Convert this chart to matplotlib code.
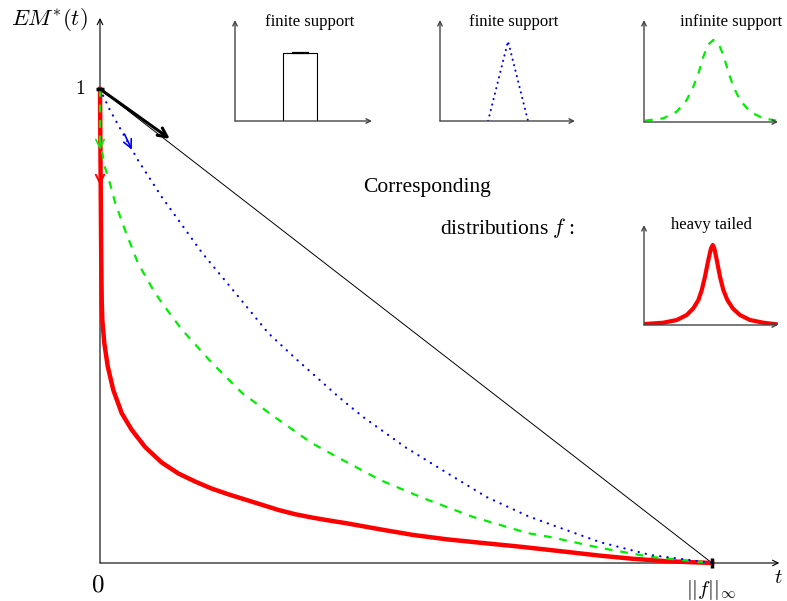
import matplotlib
matplotlib.use("Agg")
import matplotlib.pyplot as plt

plt.rcParams['font.family'] = 'serif'
plt.rcParams['font.serif'] = ['Liberation Serif', 'DejaVu Serif']
plt.rcParams['mathtext.fontset'] = 'cm'

# main curves, t normalised by ||f||_inf, EM* normalised to 1
uniform_t = [0.0, 1.0]
uniform_em = [1.0, 0.0]

triangle_t = [0.0, 0.016, 0.038, 0.062, 0.101, 0.167, 0.221, 0.275, 0.319, 0.392,
              0.430, 0.498, 0.567, 0.632, 0.699, 0.735, 0.817, 0.899, 1.0]
triangle_em = [1.0, 0.956, 0.905, 0.850, 0.772, 0.654, 0.570, 0.485, 0.432, 0.348,
               0.308, 0.245, 0.190, 0.139, 0.099, 0.082, 0.044, 0.017, 0.0]

gauss_t = [0.0, 0.0, 0.008, 0.016, 0.025, 0.041, 0.062, 0.087, 0.101, 0.134, 0.183,
           0.232, 0.281, 0.346, 0.397, 0.458, 0.528, 0.610, 0.699, 0.735, 0.817, 0.899, 1.0]
gauss_em = [1.0, 0.892, 0.835, 0.802, 0.759, 0.702, 0.633, 0.576, 0.549, 0.492, 0.422,
            0.359, 0.312, 0.253, 0.217, 0.175, 0.137, 0.097, 0.063, 0.055, 0.032, 0.013, 0.0]

heavy_t = [0.0, 0.0020, 0.0028, 0.0038, 0.0070, 0.0126, 0.0217, 0.0355, 0.0518, 0.0735,
           0.1008, 0.1279, 0.1552, 0.1825, 0.2096, 0.2369, 0.2642, 0.2913, 0.3186, 0.3459,
           0.3730, 0.403, 0.4575, 0.512, 0.5665, 0.6209, 0.6753, 0.700, 0.7626, 0.817,
           0.8714, 0.926, 1.0]
heavy_em = [1.0, 0.640, 0.555, 0.513, 0.464, 0.415, 0.365, 0.316, 0.281, 0.245,
            0.212, 0.189, 0.172, 0.157, 0.145, 0.134, 0.123, 0.112, 0.103, 0.096,
            0.090, 0.0838, 0.0711, 0.0591, 0.050, 0.0428, 0.0359, 0.0325, 0.0235, 0.0155,
            0.0088, 0.0038, 0.0]

# small density sketches (inset units 0..1)
rect_x = [0.35, 0.35, 0.60, 0.60]
rect_y = [0.0, 0.67, 0.67, 0.0]
tri_x = [0.356, 0.504, 0.652]
tri_y = [0.0, 0.79, 0.0]
bell_x = [0.007, 0.144, 0.244, 0.319, 0.368, 0.406, 0.443, 0.476, 0.517, 0.555, 0.592,
          0.629, 0.667, 0.716, 0.791, 0.890, 0.990]
bell_y = [0.013, 0.036, 0.101, 0.216, 0.346, 0.477, 0.640, 0.755, 0.804, 0.771, 0.657,
          0.493, 0.346, 0.216, 0.101, 0.036, 0.013]
cusp_x = [0.007, 0.144, 0.244, 0.319, 0.368, 0.406, 0.431, 0.455, 0.480, 0.500, 0.513,
          0.525, 0.543, 0.567, 0.592, 0.622, 0.662, 0.716, 0.791, 0.890, 0.990]
cusp_y = [0.01, 0.023, 0.05, 0.10, 0.167, 0.25, 0.35, 0.483, 0.65, 0.767, 0.80,
          0.767, 0.65, 0.483, 0.35, 0.25, 0.167, 0.10, 0.05, 0.023, 0.007]

W, H = 787, 601
fig = plt.figure(figsize=(W / 100, H / 100), dpi=100)
ax = fig.add_axes([0, 0, 1, 1])
ax.set_xlim(-100 / 612, 687 / 612)
ax.set_ylim(-38 / 474, 563 / 474)
ax.axis('off')


def arrow(a, p0, p1, lw=0.8, color='black', ms=10, coords='data', z=3):
    a.annotate('', xy=p1, xytext=p0, xycoords=coords, textcoords=coords,
               arrowprops=dict(arrowstyle='->', lw=lw, color=color,
                               shrinkA=0, shrinkB=0, mutation_scale=ms), zorder=z)


# axes
arrow(ax, (0, 0), (0, 1.15))
arrow(ax, (0, 0), (1.11, 0))
ax.plot([-0.007, 0.007], [1, 1], color='black', lw=2.5, solid_capstyle='butt', zorder=6)
ax.plot([1, 1], [-0.011, 0.011], color='black', lw=2.5, solid_capstyle='butt', zorder=6)

# curves
ax.plot(uniform_t, uniform_em, color='black', lw=0.7)
arrow(ax, (0, 1), (0.114, 0.895), lw=2.2, ms=16)

ax.plot(heavy_t, heavy_em, color='red', lw=3.2, zorder=3)
arrow(ax, (0, 0.83), (0, 0.797), lw=1.4, color='red', ms=15, z=3)

ax.plot(gauss_t, gauss_em, color='#00ee00', lw=1.6, linestyle=(0, (3.5, 3.5)), zorder=4)
arrow(ax, (0, 0.9), (0, 0.872), lw=1.2, color='#00ee00', ms=15, z=4)

ax.plot(triangle_t, triangle_em, color='blue', lw=1.6, linestyle=(0, (0.1, 3.2)),
        dash_capstyle='round', zorder=5)
arrow(ax, (0.04, 0.905), (0.052, 0.872), lw=1.2, color='blue', ms=15, z=5)

# labels
ax.text(-0.082, 1.146, r'$EM^{*}(t)$', fontsize=16.5, ha='center', va='center')
ax.text(-0.033, 1.0, r'$1$', fontsize=14, ha='center', va='center')
ax.text(-0.003, -0.048, r'$0$', fontsize=18, ha='center', va='center')
ax.text(0.998, -0.057, r'$||f||_{\infty}$', fontsize=15, ha='center', va='center')
ax.text(1.108, -0.032, r'$t$', fontsize=15, ha='center', va='center')
ax.text(0.534, 0.793, 'Corresponding', fontsize=15.5, ha='center', va='center')
ax.text(0.666, 0.706, r'distributions $f$ :', fontsize=15.5, ha='center', va='center')


def inset(x0, x1, ytop, ybot):
    a = fig.add_axes([x0 / W, (H - ybot) / H, (x1 - x0) / W, (ybot - ytop) / H])
    a.set_xlim(0, 1)
    a.set_ylim(0, 1)
    a.axis('off')
    arrow(a, (0, 0), (0, 1), lw=1.0, color='#444444', ms=8, coords='axes fraction')
    arrow(a, (0, 0), (1, 0), lw=1.0, color='#444444', ms=8, coords='axes fraction')
    return a


a1 = inset(235, 372, 20, 121)
a1.plot(rect_x, rect_y, color='black', lw=0.8)
a1.plot([0.42, 0.53], [0.67, 0.67], color='black', lw=1.6)
a1.text(0.547, 0.98, 'finite support', fontsize=12, ha='center', va='center', transform=a1.transAxes)

a2 = inset(440, 575, 20, 121)
a2.plot(tri_x, tri_y, color='blue', lw=1.5, linestyle=(0, (0.1, 2.6)), dash_capstyle='round')
a2.text(0.548, 0.98, 'finite support', fontsize=12, ha='center', va='center', transform=a2.transAxes)

a3 = inset(644, 778, 20, 122)
a3.plot(bell_x, bell_y, color='#00ee00', lw=1.6, linestyle=(0, (3.5, 3.5)))
a3.text(0.65, 0.98, 'infinite support', fontsize=12, ha='center', va='center', transform=a3.transAxes)

a4 = inset(644, 778, 225, 325)
a4.plot(cusp_x, cusp_y, color='red', lw=3.0)
a4.text(0.5, 1.0, 'heavy tailed', fontsize=12, ha='center', va='center', transform=a4.transAxes)

fig.savefig('out.png', dpi=100)
